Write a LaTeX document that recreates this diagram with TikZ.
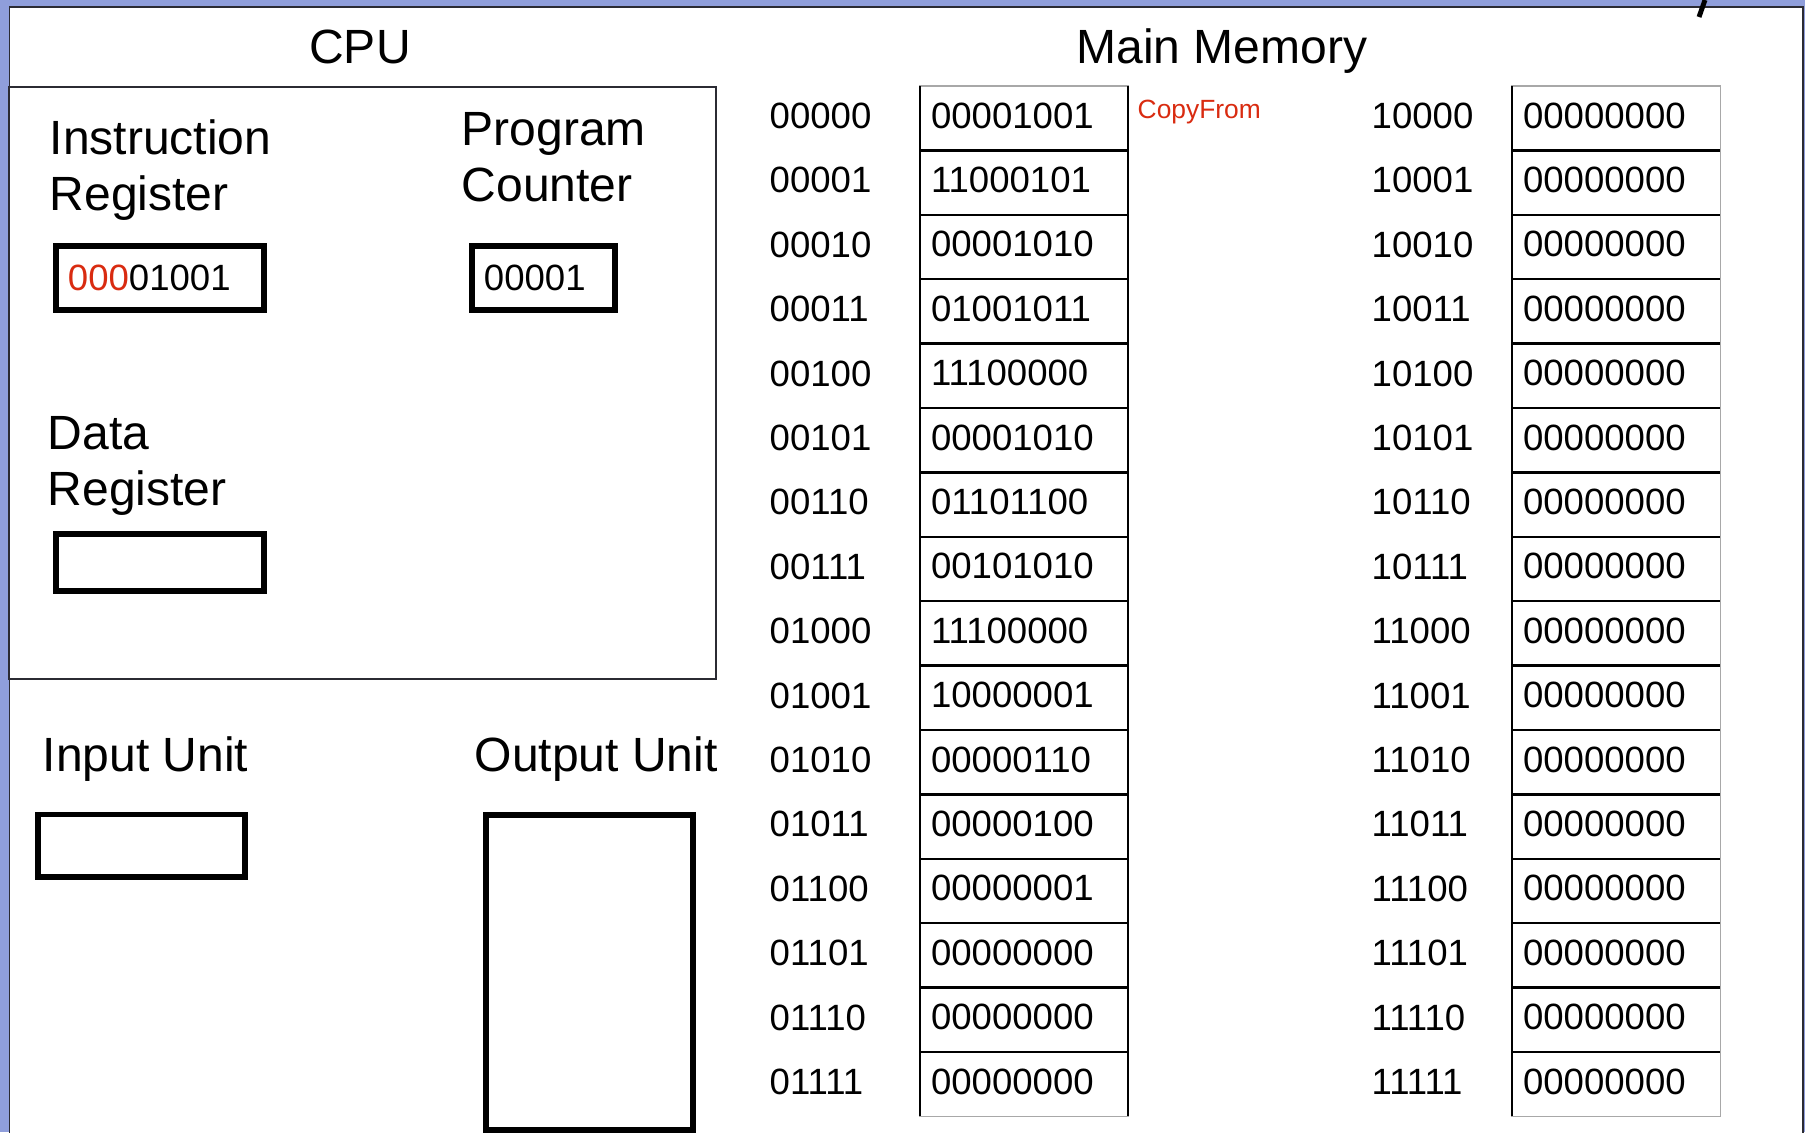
\documentclass[tikz,border=0pt]{standalone}
\usepackage{fontspec}
\setmainfont{Liberation Sans}
\usepackage{tikz}
\usetikzlibrary{positioning}
\definecolor{slideblue}{HTML}{8F9EDB}
\definecolor{framegray}{HTML}{2B2B33}
\definecolor{cellgray}{HTML}{A8A8A8}
\definecolor{markred}{HTML}{D92B10}
\tikzset{
  heading/.style={font=\fontsize{13.66}{15.7}\selectfont, inner sep=0pt, anchor=base},
  unitlabel/.style={font=\fontsize{13.66}{15.7}\selectfont, align=left,
    inner sep=0pt, anchor=base west},
  regbox/.style={draw, line width=1.7pt, inner xsep=0.12cm, inner ysep=0pt,
    font=\fontsize{10.4}{12}\selectfont, align=left},
  unitbox/.style={draw, line width=1.7pt, inner sep=0pt},
  memcell/.style={draw=cellgray, line width=0.35pt, anchor=north west, outer sep=0pt,
    minimum width=2.08cm, minimum height=0.644cm, text width=1.86cm,
    inner xsep=0.11cm, inner ysep=0pt, align=left, text depth=0.06cm,
    font=\fontsize{10.4}{12}\selectfont},
  addr/.style={anchor=base west, inner sep=0pt, font=\fontsize{10.4}{12}\selectfont},
  memline/.style={line width=0.65pt},
  notered/.style={font=\fontsize{7.5}{9}\selectfont, text=markred,
    anchor=base west, inner sep=0pt}
}

\begin{document}
\begin{tikzpicture}[x=0.01cm, y=-0.01cm]

\clip (0,0) rectangle (1805,1132);

% slide frame
\fill[slideblue] (0,0) rectangle (1805,1132);
\filldraw[fill=white, draw=framegray, line width=0.5pt] (9.5,7) rectangle (1803,1140);
\draw[line width=1.4pt] (1699,17) -- (1705,0);

% CPU
\node[draw=framegray, line width=0.45pt, minimum width=7.07cm, minimum height=5.92cm,
  inner sep=0pt] (cpu) at (362.5,383) {};
\node[heading] (cputitle) at (360,63) {CPU};

\node[unitlabel] (irlabel) at (49,210) {Instruction\\Register};
\node[regbox, minimum width=2.08cm, minimum height=0.64cm, text width=1.84cm]
  (ir) at (160,278) {\textcolor{markred}{000}01001};

\node[unitlabel] (pclabel) at (461,201) {Program\\Counter};
\node[regbox, minimum width=1.43cm, minimum height=0.64cm, text width=1.19cm]
  (pc) at (543.5,278) {00001};

\node[unitlabel] (drlabel) at (47,505) {Data\\Register};
\node[unitbox, minimum width=2.08cm, minimum height=0.57cm] (dr) at (160,562.5) {};

% I/O units
\node[unitlabel] (inlabel) at (42,771) {Input Unit};
\node[unitbox, minimum width=2.06cm, minimum height=0.62cm] (inbox) at (141.5,845.5) {};

\node[unitlabel] (outlabel) at (474,771) {Output Unit};
\node[unitbox, minimum width=2.07cm, minimum height=3.15cm] (outbox) at (589.5,972.5) {};

% Main memory
\node[heading] (memtitle) at (1222,63) {Main Memory};

\foreach \a/\v [count=\i from 0] in {00000/00001001, 00001/11000101, 00010/00001010,
    00011/01001011, 00100/11100000, 00101/00001010, 00110/01101100, 00111/00101010,
    01000/11100000, 01001/10000001, 01010/00000110, 01011/00000100, 01100/00000001,
    01101/00000000, 01110/00000000, 01111/00000000} {
  \node[memcell] (m\i) at (920,{86+64.4*\i}) {\v};
  \node[addr] (a\i) at (769,{128.5+64.4*\i}) {\a};
}
\foreach \a [count=\i from 16] in {10000, 10001, 10010, 10011, 10100, 10101, 10110,
    10111, 11000, 11001, 11010, 11011, 11100, 11101, 11110, 11111} {
  \node[memcell] (m\i) at (1512,{86+64.4*(\i-16)}) {00000000};
  \node[addr] (a\i) at (1371,{128.5+64.4*(\i-16)}) {\a};
}

% cell rules
\draw[memline] (m0.north west) -- (m15.south west);
\draw[memline] (m0.north east) -- (m15.south east);
\foreach \i in {1,...,15} \draw[memline] (m\i.north west) -- (m\i.north east);
\draw[memline] (m16.north west) -- (m31.south west);
\foreach \i in {17,...,31} \draw[memline] (m\i.north west) -- (m\i.north east);

\node[notered] (copyfrom) at (1137,118) {CopyFrom};

\end{tikzpicture}
\end{document}
